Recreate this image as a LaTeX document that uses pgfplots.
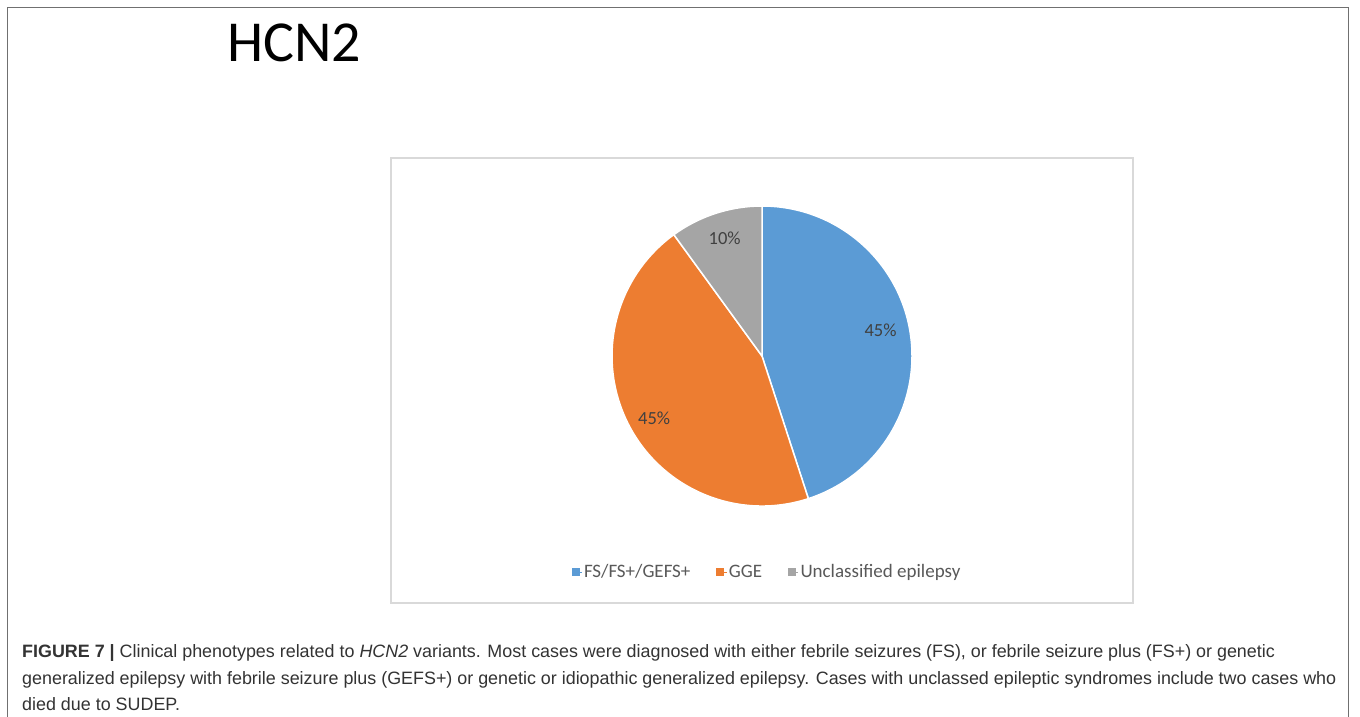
\documentclass[border=0pt]{standalone}
\usepackage{pgfplots}
\pgfplotsset{compat=1.18}
\usepackage{pgfplotstable}
\usepackage{fontspec}
\setmainfont{Liberation Sans}
\newfontfamily\calibri{Carlito}
\definecolor{pieblue}{HTML}{5B9BD5}
\definecolor{pieorange}{HTML}{ED7D31}
\definecolor{piegray}{HTML}{A5A5A5}
\definecolor{labelgray}{HTML}{404040}
\definecolor{legendgray}{HTML}{595959}
\definecolor{chartframe}{HTML}{D9D9D9}
\definecolor{outerframe}{HTML}{707070}
\definecolor{captext}{HTML}{333333}

% value = share in percent; dx, dy = small nudges of the data label
\pgfplotstableread[col sep=comma]{
label,value,dx,dy
FS/FS+/GEFS+,45,-1,7
GGE,45,0,-7
Unclassified epilepsy,10,0,3
}\piedata

\def\slicecolor#1{\ifcase#1 pieblue\or pieorange\or piegray\fi}
\tikzset{pielabel/.style={font=\calibri\fontsize{18.5}{20}\selectfont, text=labelgray}}

\begin{document}
\begin{tikzpicture}[x=1pt,y=1pt]
\fill[white] (0,0) rectangle (1360,716);
\useasboundingbox (0,0) rectangle (1360,716);
% outer frame
\draw[outerframe, line width=1.6pt] (7.5,-2) -- (7.5,708.5) -- (1348.5,708.5) -- (1348.5,-2);
% title
\node[anchor=base west, inner sep=0pt, font=\calibri\fontsize{58}{70}\selectfont] at (227,654) {HCN2};
% chart frame
\draw[chartframe, line width=1.5pt] (391,113) rectangle (1133,558);

\begin{axis}[
  at={(762,360)}, anchor=center,
  x=1pt, y=1pt,
  xmin=-150, xmax=150, ymin=-150, ymax=150,
  hide axis, clip=false,
  legend columns=3,
  legend cell align=left,
  legend image code/.code={\fill[#1] (0pt,-3.5pt) rectangle (7pt,3.5pt); \path (0pt,0pt) -- (10pt,0pt);},
  legend style={at={(axis cs:5,-216)}, anchor=center, draw=none, fill=none,
    font=\calibri\fontsize{19}{21}\selectfont, text=legendgray,
    /tikz/every even column/.append style={column sep=24pt},
    /tikz/every odd column/.append style={column sep=0pt}},
]
\pgfplotstablegetrowsof{\piedata}
\pgfmathtruncatemacro\nrows{\pgfplotsretval-1}
\def\cumangle{90}
\pgfplotsforeachungrouped \i in {0,...,\nrows}{%
  \pgfplotstablegetelem{\i}{value}\of\piedata
  \let\val\pgfplotsretval
  \pgfplotstablegetelem{\i}{dx}\of\piedata
  \let\ddx\pgfplotsretval
  \pgfplotstablegetelem{\i}{dy}\of\piedata
  \let\ddy\pgfplotsretval
  \pgfmathsetmacro\sweep{3.6*\val}%
  \pgfmathsetmacro\endangle{\cumangle-\sweep}%
  \pgfmathsetmacro\midangle{\cumangle-\sweep/2}%
  \pgfmathsetmacro\lx{121*cos(\midangle)+\ddx}%
  \pgfmathsetmacro\ly{121*sin(\midangle)+\ddy}%
  \pgfmathtruncatemacro\pct{round(\val)}%
  \edef\temp{\noexpand\fill[\slicecolor{\i}, draw=white, line width=1.5pt] (axis cs:0,0) -- ++(\cumangle:150pt) arc[start angle=\cumangle, end angle=\endangle, radius=150pt] -- cycle;
    \noexpand\node[pielabel] at (axis cs:\lx,\ly) {\pct\noexpand\%};}%
  \temp
  \global\let\cumangle\endangle
}
\addlegendimage{pieblue}
\addlegendimage{pieorange}
\addlegendimage{piegray}
\legend{FS/FS+/GEFS+, GGE, Unclassified epilepsy}
\end{axis}

% caption
\begin{scope}[every node/.style={anchor=base west, inner sep=0pt, font=\fontsize{17.9}{21}\selectfont, text=captext}]
\node at (22,59) {\textbf{FIGURE 7 |} Clinical phenotypes related to \textit{HCN2} variants. Most cases were diagnosed with either febrile seizures (FS), or febrile seizure plus (FS+) or genetic};
\node at (22,32) {generalized epilepsy with febrile seizure plus (GEFS+) or genetic or idiopathic generalized epilepsy. Cases with unclassed epileptic syndromes include two cases who};
\node at (22,6) {died due to SUDEP.};
\end{scope}
\end{tikzpicture}
\end{document}
